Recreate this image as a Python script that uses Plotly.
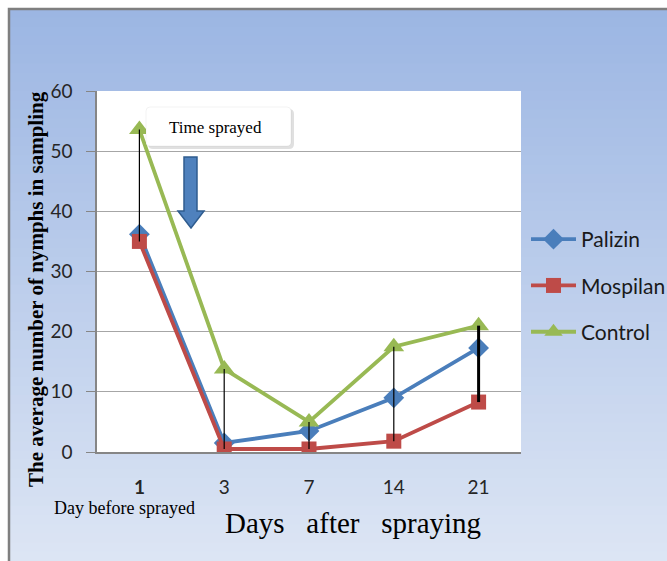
import plotly.graph_objects as go

W, H = 667, 561

categories = ["1", "3", "7", "14", "21"]
tick_labels = ["<b>1</b>", "3", "7", "14", "21"]
palizin = [36.2, 1.5, 3.5, 9.0, 17.3]
mospilan = [35.0, 0.5, 0.5, 1.8, 8.3]
control = [53.6, 13.8, 5.0, 17.5, 21.0]
y_ticks = [0, 10, 20, 30, 40, 50, 60]


def px(x):
    return x / W


def py(y):
    return 1 - y / H


fig = go.Figure()

series = [
    ("Palizin", palizin, "#4A7EBB", "diamond", 16),
    ("Mospilan", mospilan, "#BE4B48", "square", 15),
    ("Control", control, "#98B954", "triangle-up", 18),
]
for name, vals, col, sym, size in series:
    fig.add_trace(go.Scatter(
        x=categories, y=vals, name=name, mode="lines+markers",
        line=dict(color=col, width=3.8),
        marker=dict(symbol=sym, size=size, color=col),
        legendgroup=name,
    ))

# high-low lines
for i, c in enumerate(categories):
    vals = [palizin[i], mospilan[i], control[i]]
    fig.add_trace(go.Scatter(
        x=[c, c], y=[min(vals), max(vals)], mode="lines",
        line=dict(color="black", width=3 if i == len(categories) - 1 else 1.2),
        showlegend=False, hoverinfo="skip",
    ))

shapes = []
# gradient background stripes
top = (156, 182, 227)
bot = (220, 229, 244)
n = 60
x0b, y0b = 8, 8
for k in range(n):
    t = k / (n - 1)
    c = tuple(int(round(top[j] + (bot[j] - top[j]) * t)) for j in range(3))
    ya = y0b + (H - y0b) * k / n
    yb = y0b + (H - y0b) * (k + 1) / n + 1
    shapes.append(dict(type="rect", xref="paper", yref="paper",
                       x0=px(x0b), x1=1, y0=py(ya), y1=py(min(yb, H)),
                       fillcolor="rgb(%d,%d,%d)" % c, line=dict(width=0), layer="below"))
# border
shapes.append(dict(type="path", xref="paper", yref="paper",
                   path="M %f,%f L %f,%f L %f,%f" % (px(9), 0, px(9), py(9), 1, py(9)),
                   line=dict(color="#7F7F7F", width=2.5), layer="below"))
# white plot area
shapes.append(dict(type="rect", xref="paper", yref="paper",
                   x0=px(97), x1=px(521), y0=py(452), y1=py(91),
                   fillcolor="white", line=dict(width=0), layer="below"))


def rrect(x0, y0, x1, y1, r):
    return ("M %f,%f L %f,%f Q %f,%f %f,%f L %f,%f Q %f,%f %f,%f L %f,%f Q %f,%f %f,%f L %f,%f Q %f,%f %f,%f Z" % (
        px(x0 + r), py(y0), px(x1 - r), py(y0), px(x1), py(y0), px(x1), py(y0 + r),
        px(x1), py(y1 - r), px(x1), py(y1), px(x1 - r), py(y1),
        px(x0 + r), py(y1), px(x0), py(y1), px(x0), py(y1 - r),
        px(x0), py(y0 + r), px(x0), py(y0), px(x0 + r), py(y0)))


# Time sprayed box shadow + box
shapes.append(dict(type="path", xref="paper", yref="paper", path=rrect(148, 109, 294, 149, 5),
                   fillcolor="rgba(0,0,0,0.12)", line=dict(width=0), layer="above"))
shapes.append(dict(type="path", xref="paper", yref="paper", path=rrect(146, 107, 291, 146, 4),
                   fillcolor="white", line=dict(color="rgba(0,0,0,0.05)", width=1), layer="above"))

# blue arrow
ax = [(184, 157), (197, 157), (197, 211), (204, 211), (191, 228), (178, 211), (184, 211)]
path = "M " + " L ".join("%f,%f" % (px(a), py(b)) for a, b in ax) + " Z"
shapes.append(dict(type="path", xref="paper", yref="paper", path=path,
                   fillcolor="#4F81BD", line=dict(color="#2F5C8F", width=1.5), layer="above"))

fig.update_layout(shapes=shapes)

annotations = [
    dict(text="Time sprayed", x=px(215), y=py(128), xref="paper", yref="paper",
         xanchor="center", yanchor="middle",
         showarrow=False, font=dict(family="Liberation Serif", size=17, color="black")),
    dict(text="<b>The average number of nymphs in sampling</b>", x=px(36), y=py(289),
         xref="paper", yref="paper", textangle=-90, showarrow=False,
         xanchor="center", yanchor="middle",
         font=dict(family="Liberation Serif", size=21, color="black")),
    dict(text="Day before sprayed", x=px(125), y=py(508), xref="paper", yref="paper",
         xanchor="center", yanchor="middle",
         showarrow=False, font=dict(family="Liberation Serif", size=18, color="black")),
    dict(text="Days\u00a0\u00a0\u00a0after\u00a0\u00a0\u00a0spraying", x=px(353), y=py(523),
         xref="paper", yref="paper", showarrow=False, xanchor="center", yanchor="middle",
         font=dict(family="Liberation Serif", size=29, color="black")),
]
fig.update_layout(annotations=annotations)

fig.update_layout(
    width=W, height=H,
    margin=dict(l=0, r=0, t=0, b=0, pad=0, autoexpand=False),
    paper_bgcolor="white",
    plot_bgcolor="rgba(0,0,0,0)",
    xaxis=dict(domain=[px(97), px(521)], type="category", range=[-0.5, 4.5],
               tickmode="array", tickvals=categories, ticktext=tick_labels,
               showgrid=False, showline=True, linecolor="#868686", linewidth=1.5,
               ticks="", ticklabelstandoff=17, automargin=False,
               tickfont=dict(family="Lato", size=19, color="#262626"), zeroline=False),
    yaxis=dict(domain=[py(452), py(91)], range=[0, 60], tickvals=y_ticks,
               showgrid=True, gridcolor="#A6A6A6", gridwidth=1.3,
               showline=True, linecolor="#868686", linewidth=1.5, automargin=False,
               ticks="outside", ticklen=9, tickcolor="#868686", ticklabelstandoff=10,
               tickfont=dict(family="Lato", size=19, color="#262626"), zeroline=False),
    legend=dict(x=px(526), y=py(219), xanchor="left", yanchor="top",
                bgcolor="rgba(0,0,0,0)", traceorder="grouped", tracegroupgap=16,
                font=dict(family="Lato", size=21, color="#1a1a1a"), itemwidth=45),
    showlegend=True,
)

fig.write_html("out.html")
